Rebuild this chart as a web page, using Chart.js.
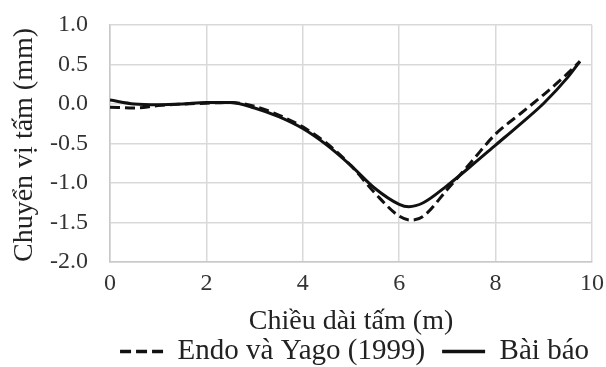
<!DOCTYPE html>
<html>
<head>
<meta charset="utf-8">
<script src="https://cdn.jsdelivr.net/npm/chart.js@4"></script>
<style>
  html, body { margin: 0; padding: 0; background: #fff; }
  #wrap { width: 606px; height: 367px; }
</style>
</head>
<body>
<div id="wrap"><canvas id="chart"></canvas></div>
<script>
// --- datos ---
const xEndo = [0, 0.5, 1, 1.5, 2, 2.5, 3, 3.5, 4, 4.5, 5, 5.5, 6, 6.25, 6.5, 7, 7.5, 8, 8.5, 9, 9.5, 9.75];
const yEndo = [-0.04, -0.05, -0.02, 0.0, 0.01, 0.02, -0.03, -0.14, -0.29, -0.5, -0.78, -1.13, -1.42, -1.47, -1.42, -1.08, -0.73, -0.38, -0.13, 0.12, 0.39, 0.54];

const xBaiBao = [0, 0.5, 1, 1.5, 2, 2.5, 3, 3.5, 4, 4.5, 5, 5.5, 6, 6.2, 6.5, 7, 7.5, 8, 8.5, 9, 9.5, 9.75];
const yBaiBao = [0.05, 0.0, -0.01, 0.0, 0.02, 0.02, -0.05, -0.16, -0.31, -0.52, -0.78, -1.07, -1.27, -1.3, -1.25, -1.03, -0.78, -0.52, -0.26, 0.01, 0.34, 0.54];

const xTicks = [0, 2, 4, 6, 8, 10];
const yTicks = [-2.0, -1.5, -1.0, -0.5, 0.0, 0.5, 1.0];

const seriesNames = ['Endo và Yago (1999)', 'Bài báo'];

function toPoints(xs, ys) {
    return xs.map((x, i) => ({ x: x, y: ys[i] }));
}

const FONT = "'Liberation Serif', 'Times New Roman', serif";
const GRID = '#d9d9d9';

// leyenda con trazo de linea (punteado para Endo)
function etiquetasLeyenda(chart) {
    const items = Chart.defaults.plugins.legend.labels.generateLabels(chart);
    items.forEach((it) => {
        const ds = chart.data.datasets[it.datasetIndex];
        it.lineDash = ds.borderDash ? [11, 5] : [];
        it.lineWidth = 3.5;
        it.strokeStyle = '#111';
        it.pointStyle = 'line';
    });
    return items;
}

new Chart(document.getElementById('chart'), {
    type: 'line',
    data: {
        datasets: [{
            label: seriesNames[0],
            data: toPoints(xEndo, yEndo),
            borderColor: '#111',
            borderWidth: 3,
            borderDash: [10, 5],
            pointRadius: 0,
            cubicInterpolationMode: 'monotone'
        }, {
            label: seriesNames[1],
            data: toPoints(xBaiBao, yBaiBao),
            borderColor: '#111',
            borderWidth: 3,
            pointRadius: 0,
            cubicInterpolationMode: 'monotone'
        }]
    },
    options: {
        responsive: true,
        maintainAspectRatio: false,
        animation: false,
        layout: { padding: { left: 0, right: 0, top: 25, bottom: -9 } },
        plugins: {
            tooltip: { enabled: false },
            legend: {
                position: 'bottom',
                align: 'end',
                labels: {
                    usePointStyle: true,
                    pointStyleWidth: 43,
                    boxHeight: 8,
                    color: '#222',
                    padding: 17,
                    font: { family: FONT, size: 29 },
                    generateLabels: etiquetasLeyenda
                }
            }
        },
        scales: {
            x: {
                type: 'linear',
                min: 0,
                max: 10,
                afterBuildTicks: (axis) => { axis.ticks = xTicks.map(v => ({ value: v })); },
                afterFit: (axis) => {
                    axis.height = 58;
                    axis.paddingLeft = 0;
                    axis.paddingRight = 14;
                },
                grid: { color: GRID, lineWidth: 1.5, drawTicks: false },
                border: { color: '#c8c8c8', width: 1.5 },
                ticks: {
                    padding: 7,
                    color: '#333',
                    font: { family: FONT, size: 24 }
                },
                title: {
                    display: true,
                    text: 'Chiều dài tấm (m)',
                    color: '#222',
                    padding: { top: 0, bottom: -18 },
                    font: { family: FONT, size: 28 }
                }
            },
            y: {
                min: -2,
                max: 1,
                afterBuildTicks: (axis) => { axis.ticks = yTicks.map(v => ({ value: v })); },
                afterFit: (axis) => {
                    axis.width = 110;
                    axis.paddingTop = 0;
                    axis.paddingBottom = 0;
                },
                grid: { color: GRID, lineWidth: 1.5, drawTicks: false },
                border: { color: '#c8c8c8', width: 1.5 },
                ticks: {
                    padding: 22,
                    color: '#333',
                    font: { family: FONT, size: 24 },
                    callback: (v) => v.toFixed(1)
                },
                title: {
                    display: true,
                    text: 'Chuyển vị tấm (mm)',
                    color: '#222',
                    align: 'start',
                    padding: { top: 8, bottom: 0 },
                    font: { family: FONT, size: 28 }
                }
            }
        }
    }
});
</script>
</body>
</html>
